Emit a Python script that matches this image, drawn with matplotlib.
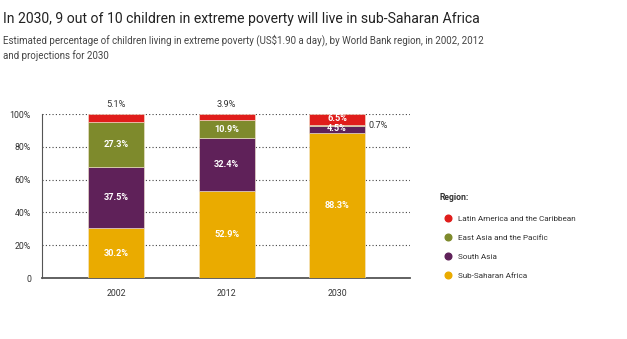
import numpy as np
import matplotlib.pyplot as plt
from matplotlib.lines import Line2D

plt.rcParams['font.family'] = ['Roboto', 'DejaVu Sans']

years = ['2002', '2012', '2030']
regions = ['Sub-Saharan Africa', 'South Asia', 'East Asia and the Pacific',
           'Latin America and the Caribbean']
colors = ['#eaab00', '#5f2159', '#7e8a2c', '#e01d1b']

# share of children in extreme poverty, per region and year (%)
ssa = [30.2, 52.9, 88.3]
south_asia = [37.5, 32.4, 4.5]
east_asia = [27.3, 10.9, 0.7]
latam = [5.1, 3.9, 6.5]
series = [ssa, south_asia, east_asia, latam]

yticks = [0, 20, 40, 60, 80, 100]
ytick_labels = ['0', '20%', '40%', '60%', '80%', '100%']

fig = plt.figure(figsize=(6.27, 3.39), dpi=100)
ax = fig.add_axes([42/627, 1-278/339, 368/627, 164/339])

x = np.arange(len(years))
width = 0.507
bottom = np.zeros(len(years))
for vals, c in zip(series, colors):
    ax.bar(x, vals, width, bottom=bottom, color=c, edgecolor='#f3e6d0',
           linewidth=0.4, zorder=3)
    bottom += np.array(vals)

LBL = 6.6

# labels inside the segments
def inside(xi, y, txt):
    ax.text(xi, y, txt, ha='center', va='center',
            color='white', fontsize=LBL, fontweight='bold', zorder=4)

for i in range(2):
    lo = 0
    for vals in series[:3]:
        inside(i, lo + vals[i]/2, f'{vals[i]}%')
        lo += vals[i]

# 2030 column: small segments
inside(2, ssa[2]/2, f'{ssa[2]}%')
inside(2, ssa[2] + 2.6, f'{south_asia[2]}%')
top3 = ssa[2] + south_asia[2] + east_asia[2]
inside(2, top3 + latam[2]/2 + 0.3, f'{latam[2]}%')
ax.text(2 + width/2 + 0.03, ssa[2] + south_asia[2] + east_asia[2]/2, f'{east_asia[2]}%',
        ha='left', va='center', fontsize=LBL, color='#333333')

# red shares for 2002 and 2012 sit above the bars
for i in range(2):
    ax.text(i, 106, f'{latam[i]}%', ha='center', va='center', fontsize=LBL,
            color='#333333', clip_on=False)

ax.set_xlim(-0.67, 2.66)
ax.set_ylim(0, 100)
ax.set_xticks(x)
ax.set_xticklabels(years)
ax.set_yticks(yticks)
ax.set_yticklabels(ytick_labels)
ax.tick_params(length=0, labelsize=6.3, colors='#333333')
ax.tick_params(axis='x', pad=8)
ax.tick_params(axis='y', pad=8)
ax.grid(axis='y', ls=(0, (1, 2)), color='#444444', lw=0.8, zorder=0)
for s in ['top', 'right']:
    ax.spines[s].set_visible(False)
ax.spines['left'].set_color('#555555')
ax.spines['bottom'].set_color('#555555')
ax.spines['bottom'].set_linewidth(1.3)

handles = [Line2D([], [], marker='o', ls='', color=c, markersize=4.8)
           for c in colors[::-1]]
leg = fig.legend(handles, regions[::-1], title='Region:', loc='upper left',
                 bbox_to_anchor=(432/627, 1-186/339), frameon=False,
                 fontsize=5.9, title_fontsize=6.2, labelspacing=1.52,
                 handletextpad=0.3, alignment='left')
leg.get_title().set_fontweight('bold')
leg.get_title().set_color('#333333')
for t in leg.get_texts():
    t.set_color('#333333')

fig.text(3/627, 1-23/339,
         'In 2030, 9 out of 10 children in extreme poverty will live in sub-Saharan Africa',
         fontsize=10.1, color='#222222')
fig.text(3/627, 1-59/339,
         'Estimated percentage of children living in extreme poverty (US$1.90 a day), by World Bank region, in 2002, 2012\nand projections for 2030',
         fontsize=7.0, color='#444444', linespacing=1.5)

fig.savefig('out.png', dpi=100)
